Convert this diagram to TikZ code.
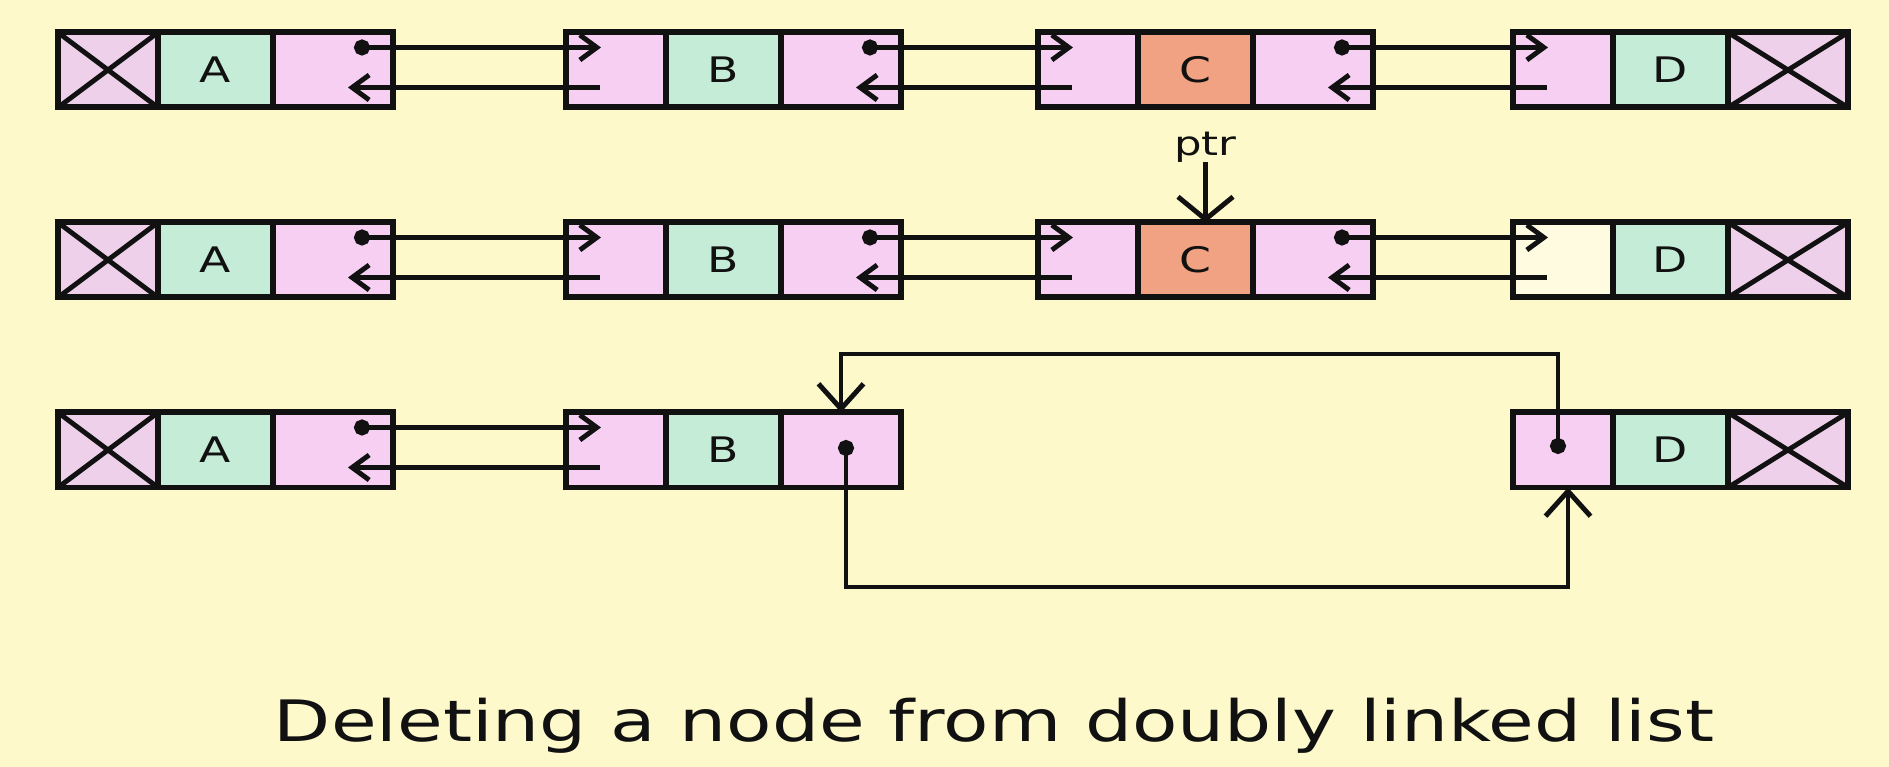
\documentclass[tikz,border=0pt]{standalone}
\usepackage{fontspec}
\setmainfont{DejaVu Sans}[FakeStretch=1.3]
\usepackage{tikz}
\usetikzlibrary{arrows.meta,positioning}
\usepackage{xcolor}

\definecolor{paper}{RGB}{254,249,203}
\definecolor{linkpink}{RGB}{246,207,243}
\definecolor{nullpink}{RGB}{238,208,234}
\definecolor{datagreen}{RGB}{197,236,214}
\definecolor{delsalmon}{RGB}{241,162,130}
\definecolor{ink}{RGB}{17,17,17}

\begin{document}
\begin{tikzpicture}[
      node distance=0pt and 0pt,
      cell/.style={draw=ink, line width=3.4pt, rectangle, minimum height=1.5cm,
                   inner sep=0pt, outer sep=0pt, text=ink, font=\fontsize{20}{24}\selectfont},
      prevcell/.style={cell, minimum width=2.0cm, fill=linkpink},
      datacell/.style={cell, minimum width=2.3cm, fill=datagreen},
      nextcell/.style={cell, minimum width=2.4cm, fill=linkpink},
      nullcell/.style={cell, fill=nullpink,
                   path picture={\draw[ink, line width=2.8pt]
                     (path picture bounding box.south west) -- (path picture bounding box.north east)
                     (path picture bounding box.north west) -- (path picture bounding box.south east);}},
      link/.style={ink, line width=2.8pt, {Circle[length=0.32cm]}-{Straight Barb[length=0.34cm,width=0.5cm]}},
      back/.style={ink, line width=2.8pt, -{Straight Barb[length=0.34cm,width=0.5cm]}},
      jump/.style={ink, line width=2.8pt, {Circle[length=0.32cm]}-{Straight Barb[length=0.5cm,width=0.9cm]}},
      ptrarrow/.style={ink, line width=2.8pt, -{Straight Barb[length=0.45cm,width=1.1cm]}},
    ]

    \fill[paper] (0,0) rectangle (37.78,15.34);

    % first row: the whole list
    \node[nullcell, minimum width=2.0cm, anchor=west] (a1x) at (1.16,13.94) {};
    \node[datacell, right=of a1x] (a1d) {A};
    \node[nextcell, right=of a1d] (a1n) {};
    \node[prevcell, right=3.46cm of a1n] (b1p) {};
    \node[datacell, right=of b1p] (b1d) {B};
    \node[nextcell, right=of b1d] (b1n) {};
    \node[prevcell, right=2.74cm of b1n] (c1p) {};
    \node[datacell, fill=delsalmon, right=of c1p] (c1d) {C};
    \node[nextcell, right=of c1d] (c1n) {};
    \node[prevcell, right=2.8cm of c1n] (d1p) {};
    \node[datacell, right=of d1p] (d1d) {D};
    \node[nullcell, minimum width=2.4cm, right=of d1d] (d1x) {};

    % second row: ptr on C
    \node[nullcell, minimum width=2.0cm, below=2.3cm of a1x] (a2x) {};
    \node[datacell, right=of a2x] (a2d) {A};
    \node[nextcell, right=of a2d] (a2n) {};
    \node[prevcell, right=3.46cm of a2n] (b2p) {};
    \node[datacell, right=of b2p] (b2d) {B};
    \node[nextcell, right=of b2d] (b2n) {};
    \node[prevcell, right=2.74cm of b2n] (c2p) {};
    \node[datacell, fill=delsalmon, right=of c2p] (c2d) {C};
    \node[nextcell, right=of c2d] (c2n) {};
    \node[prevcell, fill=paper!60!white, right=2.8cm of c2n] (d2p) {};
    \node[datacell, right=of d2p] (d2d) {D};
    \node[nullcell, minimum width=2.4cm, right=of d2d] (d2x) {};

    \node[inner sep=0pt, font=\fontsize{19}{23}\selectfont, text=ink,
          above=1.2cm of c2d, xshift=0.2cm] (ptr) {ptr};
    \draw[ptrarrow] (ptr) -- (ptr |- c2d.north);

    % third row: C taken out
    \node[nullcell, minimum width=2.0cm, below=2.3cm of a2x] (a3x) {};
    \node[datacell, right=of a3x] (a3d) {A};
    \node[nextcell, right=of a3d] (a3n) {};
    \node[prevcell, right=3.46cm of a3n] (b3p) {};
    \node[datacell, right=of b3p] (b3d) {B};
    \node[nextcell, right=of b3d] (b3n) {};
    \node[prevcell, below=2.3cm of d2p] (d3p) {};
    \node[datacell, right=of d3p] (d3d) {D};
    \node[nullcell, minimum width=2.4cm, right=of d3d] (d3x) {};

    % next and prev links
    \draw[link] ([xshift=-0.78cm,yshift=0.45cm]a1n.east) -- ([xshift=0.7cm,yshift=0.45cm]b1p.west);
    \draw[back] ([xshift=0.68cm,yshift=-0.35cm]b1p.west) -- ([xshift=-0.9cm,yshift=-0.35cm]a1n.east);
    \draw[link] ([xshift=-0.78cm,yshift=0.45cm]b1n.east) -- ([xshift=0.7cm,yshift=0.45cm]c1p.west);
    \draw[back] ([xshift=0.68cm,yshift=-0.35cm]c1p.west) -- ([xshift=-0.9cm,yshift=-0.35cm]b1n.east);
    \draw[link] ([xshift=-0.78cm,yshift=0.45cm]c1n.east) -- ([xshift=0.7cm,yshift=0.45cm]d1p.west);
    \draw[back] ([xshift=0.68cm,yshift=-0.35cm]d1p.west) -- ([xshift=-0.9cm,yshift=-0.35cm]c1n.east);

    \draw[link] ([xshift=-0.78cm,yshift=0.45cm]a2n.east) -- ([xshift=0.7cm,yshift=0.45cm]b2p.west);
    \draw[back] ([xshift=0.68cm,yshift=-0.35cm]b2p.west) -- ([xshift=-0.9cm,yshift=-0.35cm]a2n.east);
    \draw[link] ([xshift=-0.78cm,yshift=0.45cm]b2n.east) -- ([xshift=0.7cm,yshift=0.45cm]c2p.west);
    \draw[back] ([xshift=0.68cm,yshift=-0.35cm]c2p.west) -- ([xshift=-0.9cm,yshift=-0.35cm]b2n.east);
    \draw[link] ([xshift=-0.78cm,yshift=0.45cm]c2n.east) -- ([xshift=0.7cm,yshift=0.45cm]d2p.west);
    \draw[back] ([xshift=0.68cm,yshift=-0.35cm]d2p.west) -- ([xshift=-0.9cm,yshift=-0.35cm]c2n.east);

    \draw[link] ([xshift=-0.78cm,yshift=0.45cm]a3n.east) -- ([xshift=0.7cm,yshift=0.45cm]b3p.west);
    \draw[back] ([xshift=0.68cm,yshift=-0.35cm]b3p.west) -- ([xshift=-0.9cm,yshift=-0.35cm]a3n.east);

    % B and D joined round the gap
    \draw[jump] ([xshift=0.1cm,yshift=0.2cm]b3n.center) -- ([xshift=0.1cm,yshift=-2.74cm]b3n.center)
                -| ([xshift=0.1cm]d3p.south);
    \draw[jump] ([xshift=-0.1cm,yshift=-0.08cm]d3p.center) -- ([xshift=-0.1cm,yshift=1.92cm]d3p.center)
                -| (b3n.north);

    \node[anchor=base, text=ink, font=\fontsize{32.5}{39}\selectfont] (title) at (19.88,0.50)
      {Deleting a node from doubly linked list};
  \end{tikzpicture}
\end{document}
